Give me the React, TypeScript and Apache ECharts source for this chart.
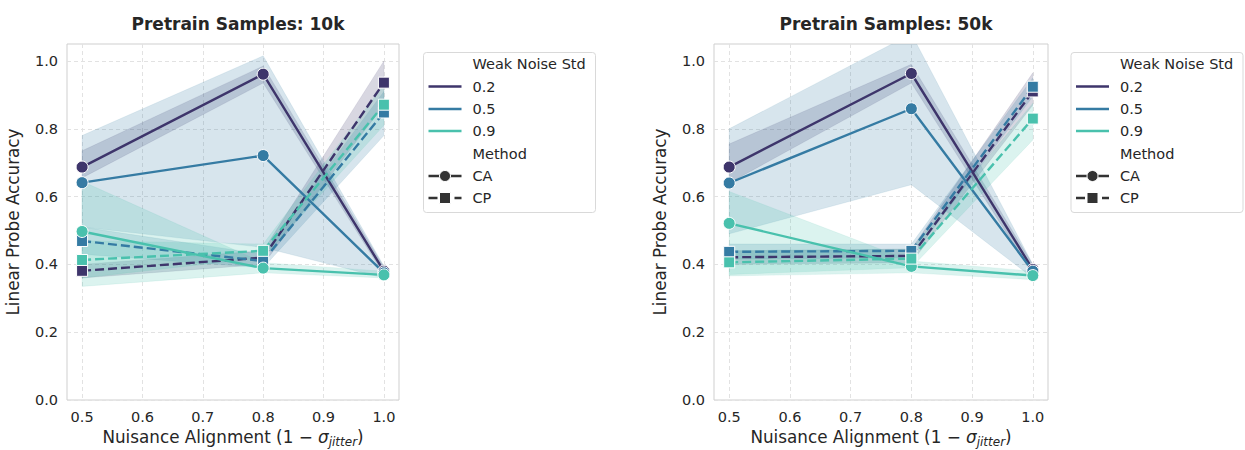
import React, { useEffect, useRef } from "react";
import * as echarts from "echarts";

// ---------- data ----------
const xValues = [0.5, 0.8, 1.0];
const xTicks = [0.5, 0.6, 0.7, 0.8, 0.9, 1.0];
const yTicks = [0, 0.2, 0.4, 0.6, 0.8, 1.0];
const noiseLevels = ["0.2", "0.5", "0.9"];
const methods = ["CA", "CP"];
const panelTitles = ["Pretrain Samples: 10k", "Pretrain Samples: 50k"];
const hueColors = ["#3e356b", "#357ba3", "#49c1ad"];

// Panel 1 (10k): per noise level [0.2, 0.5, 0.9], values at xValues
const ca10Mean = [[0.687, 0.961, 0.38], [0.641, 0.721, 0.375], [0.497, 0.389, 0.369]];
const ca10Lo = [[0.655, 0.935, 0.37], [0.51, 0.45, 0.36], [0.335, 0.375, 0.36]];
const ca10Hi = [[0.735, 0.985, 0.392], [0.78, 1.015, 0.395], [0.645, 0.405, 0.38]];
const cp10Mean = [[0.381, 0.42, 0.936], [0.469, 0.41, 0.848], [0.413, 0.44, 0.871]];
const cp10Lo = [[0.36, 0.4, 0.87], [0.43, 0.39, 0.78], [0.36, 0.42, 0.81]];
const cp10Hi = [[0.4, 0.44, 1.0], [0.51, 0.43, 0.91], [0.47, 0.46, 0.93]];

// Panel 2 (50k)
const ca50Mean = [[0.687, 0.963, 0.385], [0.64, 0.859, 0.38], [0.521, 0.394, 0.367]];
const ca50Lo = [[0.64, 0.935, 0.37], [0.49, 0.635, 0.36], [0.366, 0.375, 0.355]];
const ca50Hi = [[0.755, 0.99, 0.4], [0.8, 1.08, 0.4], [0.615, 0.41, 0.38]];
const cp50Mean = [[0.421, 0.425, 0.91], [0.437, 0.44, 0.924], [0.406, 0.417, 0.83]];
const cp50Lo = [[0.4, 0.405, 0.87], [0.415, 0.42, 0.895], [0.37, 0.39, 0.767]];
const cp50Hi = [[0.44, 0.445, 0.965], [0.46, 0.46, 0.95], [0.44, 0.445, 0.875]];

const panels = [
  { title: panelTitles[0], ca: [ca10Mean, ca10Lo, ca10Hi], cp: [cp10Mean, cp10Lo, cp10Hi] },
  { title: panelTitles[1], ca: [ca50Mean, ca50Lo, ca50Hi], cp: [cp50Mean, cp50Lo, cp50Hi] },
];

// ---------- layout ----------
const FONT = "DejaVu Sans";
const TEXT = "#262626";
const grids = [
  { left: 67, top: 44, width: 332, height: 356 },
  { left: 714, top: 44, width: 334, height: 356 },
];
const legendLeft = [423.5, 1071];

function hexToRgba(hex: string, a: number) {
  const n = parseInt(hex.slice(1), 16);
  return `rgba(${(n >> 16) & 255},${(n >> 8) & 255},${n & 255},${a})`;
}

function bandSeries(gi: number, lo: number[], hi: number[], color: string) {
  return {
    type: "custom",
    xAxisIndex: gi,
    yAxisIndex: gi,
    silent: true,
    data: xValues.map((x, i) => [x, lo[i], hi[i]]),
    encode: { x: 0, y: [1, 2] },
    renderItem: (params: any, api: any) => {
      if (params.dataIndex !== 0) return null;
      const top = xValues.map((x, i) => api.coord([x, hi[i]]));
      const bot = xValues.map((x, i) => api.coord([x, lo[i]])).reverse();
      const cs = params.coordSys;
      return {
        type: "polygon",
        shape: { points: top.concat(bot) },
        style: { fill: hexToRgba(color, 0.2), stroke: hexToRgba(color, 0.12), lineWidth: 0.8 },
        clipPath: { type: "rect", shape: { x: cs.x, y: cs.y, width: cs.width, height: cs.height } },
      };
    },
  };
}

function lineSeries(gi: number, name: string, mean: number[], color: string, method: string) {
  const isCP = method === "CP";
  return {
    type: "line",
    name,
    xAxisIndex: gi,
    yAxisIndex: gi,
    silent: true,
    data: xValues.map((x, i) => [x, mean[i]]),
    symbol: isCP ? "rect" : "circle",
    symbolSize: isCP ? 11 : 12,
    showSymbol: true,
    lineStyle: { color, width: 2.4, type: isCP ? [9, 4] : "solid" },
    itemStyle: { color, borderColor: "#ffffff", borderWidth: 1 },
  };
}

function buildLegend(px: number) {
  const els: any[] = [];
  const rowY = [64, 86.5, 109, 131, 153.5, 176, 198];
  const hx1 = px + 5, hx2 = px + 38, tx = px + 49;
  els.push({
    type: "rect",
    shape: { x: px, y: 52.5, width: 172, height: 160, r: 3 },
    style: { fill: "rgba(255,255,255,0.85)", stroke: "#d9d9d9", lineWidth: 1 },
  });
  const label = (text: string, y: number) => ({
    type: "text",
    x: tx,
    y,
    style: { text, fill: TEXT, font: `14.5px '${FONT}'`, verticalAlign: "middle", align: "left" },
  });
  els.push(label("Weak Noise Std", rowY[0]));
  noiseLevels.forEach((lv, i) => {
    const y = rowY[1 + i];
    els.push({ type: "line", shape: { x1: hx1, y1: y, x2: hx2, y2: y }, style: { stroke: hueColors[i], lineWidth: 2.4 } });
    els.push(label(lv, y));
  });
  els.push(label("Method", rowY[4]));
  methods.forEach((m, i) => {
    const y = rowY[5 + i];
    const cx = (hx1 + hx2) / 2;
    els.push({
      type: "line",
      shape: { x1: hx1, y1: y, x2: hx2, y2: y },
      style: { stroke: "#333333", lineWidth: 2.4, lineDash: m === "CP" ? [9, 4] : null },
    });
    if (m === "CA") {
      els.push({ type: "circle", shape: { cx, cy: y, r: 5.5 }, style: { fill: "#333333", stroke: "#fff", lineWidth: 1 } });
    } else {
      els.push({ type: "rect", shape: { x: cx - 5.5, y: y - 5.5, width: 11, height: 11 }, style: { fill: "#333333", stroke: "#fff", lineWidth: 1 } });
    }
    els.push(label(m, y));
  });
  return els;
}

export default function App() {
  const ref = useRef<HTMLDivElement>(null);
  useEffect(() => {
    document.body.style.margin = "0";
    const chart = echarts.init(ref.current!, null, { renderer: "svg" });
    const series: any[] = [];
    panels.forEach((p, gi) => {
      noiseLevels.forEach((lv, h) => {
        const color = hueColors[h];
        series.push(bandSeries(gi, p.ca[1][h], p.ca[2][h], color));
        series.push(lineSeries(gi, `${lv} CA`, p.ca[0][h], color, "CA"));
        series.push(bandSeries(gi, p.cp[1][h], p.cp[2][h], color));
        series.push(lineSeries(gi, `${lv} CP`, p.cp[0][h], color, "CP"));
      });
    });
    const option: any = {
      animation: false,
      textStyle: { fontFamily: FONT },
      title: panels.map((p, gi) => ({
        text: p.title,
        left: grids[gi].left + grids[gi].width / 2,
        top: 10,
        textAlign: "center",
        textStyle: { fontFamily: FONT, fontSize: 17, fontWeight: "bold", color: TEXT },
      })),
      grid: grids.map((g) => ({
        ...g,
        show: true,
        borderColor: "#cfcfcf",
        borderWidth: 1,
        backgroundColor: "transparent",
        containLabel: false,
        outerBoundsMode: "none",
      })),
      xAxis: grids.map((_, gi) => ({
        type: "value",
        gridIndex: gi,
        min: 0.475,
        max: 1.025,
        name: "{a|Nuisance Alignment (1 − }{b|σ}{c|jitter}{a|)}",
        nameLocation: "middle",
        nameGap: 24,
        nameTextStyle: {
          rich: {
            a: { fontFamily: FONT, fontSize: 16.8, color: TEXT },
            b: { fontFamily: FONT, fontSize: 16.8, color: TEXT, fontStyle: "italic" },
            c: { fontFamily: FONT, fontSize: 12, color: TEXT, fontStyle: "italic", padding: [9, 0, 0, 0] },
          },
        },
        axisLine: { show: false },
        axisTick: { show: false, customValues: xTicks },
        axisLabel: { customValues: xTicks, formatter: (v: number) => v.toFixed(1), color: TEXT, fontSize: 14.5, fontFamily: FONT, margin: 9 },
        splitLine: { show: true, lineStyle: { color: "#e2e2e2", type: [4, 3], width: 1 } },
      })),
      yAxis: grids.map((_, gi) => ({
        type: "value",
        gridIndex: gi,
        min: 0,
        max: 1.05,
        name: "Linear Probe Accuracy",
        nameLocation: "middle",
        nameGap: 46,
        nameTextStyle: { fontFamily: FONT, fontSize: 16.8, color: TEXT },
        axisLine: { show: false },
        axisTick: { show: false, customValues: yTicks },
        axisLabel: { customValues: yTicks, formatter: (v: number) => v.toFixed(1), color: TEXT, fontSize: 14.5, fontFamily: FONT, margin: 9 },
        splitLine: { show: true, lineStyle: { color: "#e2e2e2", type: [4, 3], width: 1 } },
      })),
      graphic: [...buildLegend(legendLeft[0]), ...buildLegend(legendLeft[1])],
      series,
    };
    chart.setOption(option);
    return () => chart.dispose();
  }, []);
  return <div ref={ref} style={{ width: 1245, height: 450 }} />;
}
